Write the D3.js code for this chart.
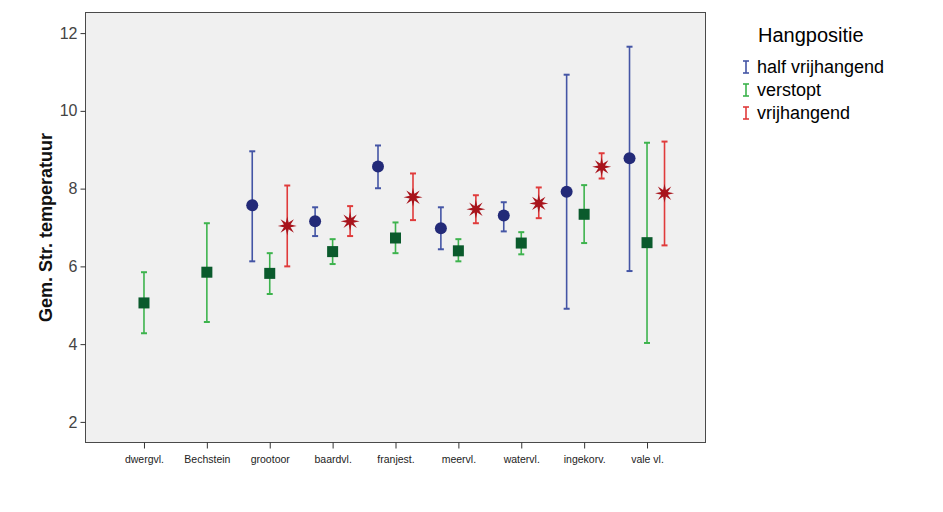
<!DOCTYPE html>
<html><head><meta charset="utf-8">
<script src="https://cdn.jsdelivr.net/npm/d3@7"></script>
<style>body{margin:0;background:#fff;} svg{display:block;font-family:"Liberation Sans",Arial,sans-serif;}</style>
</head><body>
<script>
const categories = ["dwergvl.","Bechstein","grootoor","baardvl.","franjest.","meervl.","watervl.","ingekorv.","vale vl."];
const seriesNames = ["half vrijhangend","verstopt","vrijhangend"];
// mean, lower, upper per category (null = no data)
const halfMean  = [null,null,7.57,7.16,8.57,6.98,7.31,7.92,8.78];
const halfLow   = [null,null,6.13,6.78,8.01,6.44,6.90,4.91,5.88];
const halfHigh  = [null,null,8.96,7.52,9.11,7.52,7.65,10.93,11.65];
const verMean   = [5.06,5.85,5.82,6.38,6.73,6.40,6.60,7.34,6.61];
const verLow    = [4.28,4.57,5.29,6.06,6.34,6.13,6.31,6.60,4.03];
const verHigh   = [5.85,7.11,6.34,6.70,7.13,6.70,6.88,8.09,9.18];
const vrijMean  = [null,null,7.04,7.16,7.78,7.47,7.62,8.56,7.88];
const vrijLow   = [null,null,6.00,6.78,7.19,7.11,7.24,8.26,6.54];
const vrijHigh  = [null,null,8.08,7.55,8.39,7.83,8.03,8.91,9.21];
const yTicks = [2,4,6,8,10,12];
const yLabel = "Gem. Str. temperatuur";
const legendTitle = "Hangpositie";

const W=943,H=512;
const L=85.5,T=12.5,R=705.5,B=442.5;
const svg=d3.select("body").append("svg").attr("width",W).attr("height",H);
const x=d3.scalePoint().domain(categories).range([L,R]).padding(0.93);
const y=d3.scaleLinear().domain([1.47,12.53]).range([B,T]);

svg.append("rect").attr("x",L).attr("y",T).attr("width",R-L).attr("height",B-T)
  .attr("fill","#f0f0f0").attr("stroke","#4a4a4a").attr("stroke-width",1);

const yAxis=svg.append("g").attr("transform",`translate(${L},0)`)
  .call(d3.axisLeft(y).tickValues(yTicks).tickSize(5).tickPadding(3).tickFormat(d3.format("d")));
yAxis.select(".domain").remove();
yAxis.selectAll("line").attr("stroke","#333");
yAxis.selectAll("text").attr("font-size",16).attr("fill","#444").attr("font-family","Liberation Sans, Arial");

const xAxis=svg.append("g").attr("transform",`translate(0,${B})`)
  .call(d3.axisBottom(x).tickSize(6).tickPadding(7));
xAxis.select(".domain").remove();
xAxis.selectAll("line").attr("stroke","#333");
xAxis.selectAll("text").attr("font-size",10.5).attr("fill","#222").attr("font-family","Liberation Sans, Arial");

svg.append("text").attr("transform",`translate(52,${(T+B)/2}) rotate(-90)`)
  .attr("text-anchor","middle").attr("font-size",18).attr("font-weight","bold").attr("fill","#111").text(yLabel);

const series=[
 {name:seriesNames[0],mean:halfMean,lo:halfLow,hi:halfHigh,off:-17.5,bar:"#4455a5",mark:"#232a78",shape:"circle"},
 {name:seriesNames[1],mean:verMean,lo:verLow,hi:verHigh,off:0,bar:"#3db34d",mark:"#0a5a2c",shape:"square"},
 {name:seriesNames[2],mean:vrijMean,lo:vrijLow,hi:vrijHigh,off:17.5,bar:"#e03b3b",mark:"#a8141c",shape:"star"}
];
function starPath(ro,ri,n){let p=[];for(let i=0;i<2*n;i++){const a=Math.PI*i/n-Math.PI/2;const r=i%2?ri:ro;p.push([r*Math.cos(a),r*Math.sin(a)]);}return "M"+p.map(d=>d.join(",")).join("L")+"Z";}

series.forEach(s=>{
  const g=svg.append("g");
  categories.forEach((c,i)=>{
    if(s.mean[i]==null) return;
    const onlyOne = halfMean[i]==null && vrijMean[i]==null;
    const cx=x(c)+(onlyOne?0:s.off);
    const y1=y(s.hi[i]),y2=y(s.lo[i]),ym=y(s.mean[i]);
    g.append("line").attr("x1",cx).attr("x2",cx).attr("y1",y1).attr("y2",y2).attr("stroke",s.bar).attr("stroke-width",1.6);
    [y1,y2].forEach(yy=>g.append("line").attr("x1",cx-3).attr("x2",cx+3).attr("y1",yy).attr("y2",yy).attr("stroke",s.bar).attr("stroke-width",2));
    if(s.shape==="circle") g.append("circle").attr("cx",cx).attr("cy",ym).attr("r",6).attr("fill",s.mark);
    else if(s.shape==="square") g.append("rect").attr("x",cx-5.5).attr("y",ym-5.5).attr("width",11).attr("height",11).attr("fill",s.mark);
    else g.append("path").attr("d",starPath(9.5,3.6,8)).attr("transform",`translate(${cx},${ym})`).attr("fill",s.mark);
  });
});

// legend
const lg=svg.append("g");
lg.append("text").attr("x",758).attr("y",42).attr("font-size",20).attr("fill","#000").text(legendTitle);
series.forEach((s,i)=>{
  const yy=67+i*23;
  const gx=746;
  lg.append("line").attr("x1",gx).attr("x2",gx).attr("y1",yy-6).attr("y2",yy+6).attr("stroke",s.bar).attr("stroke-width",1.6);
  [yy-6,yy+6].forEach(v=>lg.append("line").attr("x1",gx-3).attr("x2",gx+3).attr("y1",v).attr("y2",v).attr("stroke",s.bar).attr("stroke-width",1.6));
  lg.append("text").attr("x",757).attr("y",yy+6).attr("font-size",18).attr("fill","#000").text(s.name);
});
</script>
</body></html>
